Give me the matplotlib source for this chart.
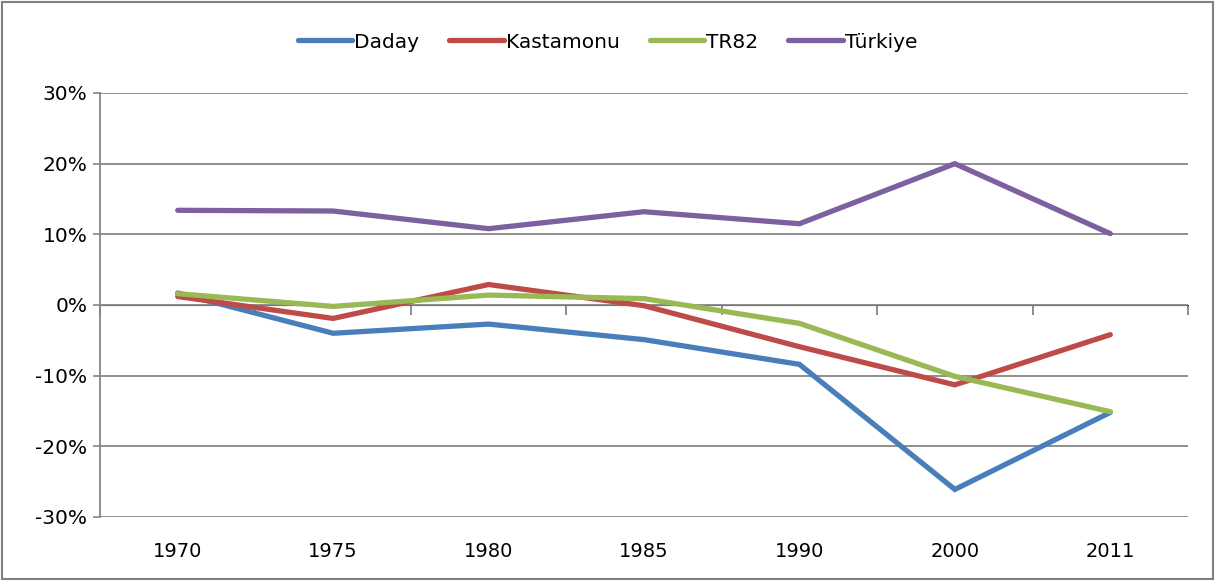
import matplotlib.pyplot as plt
import matplotlib.patches as mpatches
import numpy as np

# Data (percent)
years = ["1970", "1975", "1980", "1985", "1990", "2000", "2011"]
daday = [1.7, -4.0, -2.7, -4.9, -8.4, -26.1, -15.2]
kastamonu = [1.2, -1.9, 2.9, -0.1, -5.9, -11.3, -4.2]
tr82 = [1.6, -0.2, 1.4, 0.9, -2.6, -10.1, -15.1]
turkiye = [13.4, 13.3, 10.8, 13.2, 11.5, 20.0, 10.1]

series_names = ["Daday", "Kastamonu", "TR82", "Türkiye"]
colors = ["#4A7EBB", "#BE4B48", "#98B954", "#7D60A0"]
grid_c = "#868686"

plt.rcParams['font.family'] = ['DejaVu Sans']

fig = plt.figure(figsize=(12.15, 5.81), dpi=100)
ax = fig.add_axes([100 / 1215, 64 / 581, 1088 / 1215, 424 / 581])

x = np.arange(len(years))
for vals, name, c in zip([daday, kastamonu, tr82, turkiye], series_names, colors):
    ax.plot(x, vals, color=c, lw=3.8, label=name, solid_capstyle="round",
            solid_joinstyle="miter")

ax.set_xlim(-0.5, len(years) - 0.5)
ax.set_ylim(-30, 30)
ax.set_yticks(np.arange(-30, 31, 10))
ax.set_yticklabels([f"{v}%" for v in range(-30, 31, 10)])
ax.yaxis.grid(True, color=grid_c, lw=1.3)
ax.set_axisbelow(True)

ax.set_xticks(x)
ax.set_xticklabels(years)
ax.tick_params(axis="x", length=0, pad=18, labelsize=14)
ax.tick_params(axis="y", length=5, color=grid_c, width=1.2, pad=4, labelsize=14.5)

for s in ["top", "right", "bottom"]:
    ax.spines[s].set_visible(False)
ax.spines["left"].set_color(grid_c)
ax.spines["left"].set_linewidth(1.3)

# category axis crossing at 0% with tick marks between categories
sec = ax.secondary_xaxis(0.5)
sec.set_xticks(np.arange(-0.5, len(years), 1.0))
sec.set_xticklabels([])
sec.tick_params(axis="x", direction="in", length=7, color=grid_c, width=1.3)
sec.spines["bottom"].set_color(grid_c)
sec.spines["bottom"].set_linewidth(1.3)

leg = fig.legend(loc="center", bbox_to_anchor=(0.5, 1 - 42 / 581), ncol=4,
                 frameon=False, fontsize=14.5, handlelength=2.7,
                 handletextpad=0.1, columnspacing=1.5)

fig.patches.append(mpatches.Rectangle((0.002, 0.004), 0.996, 0.992,
                                      transform=fig.transFigure, fill=False,
                                      edgecolor="#808080", lw=1.5))

fig.savefig("out.png", dpi=100)
